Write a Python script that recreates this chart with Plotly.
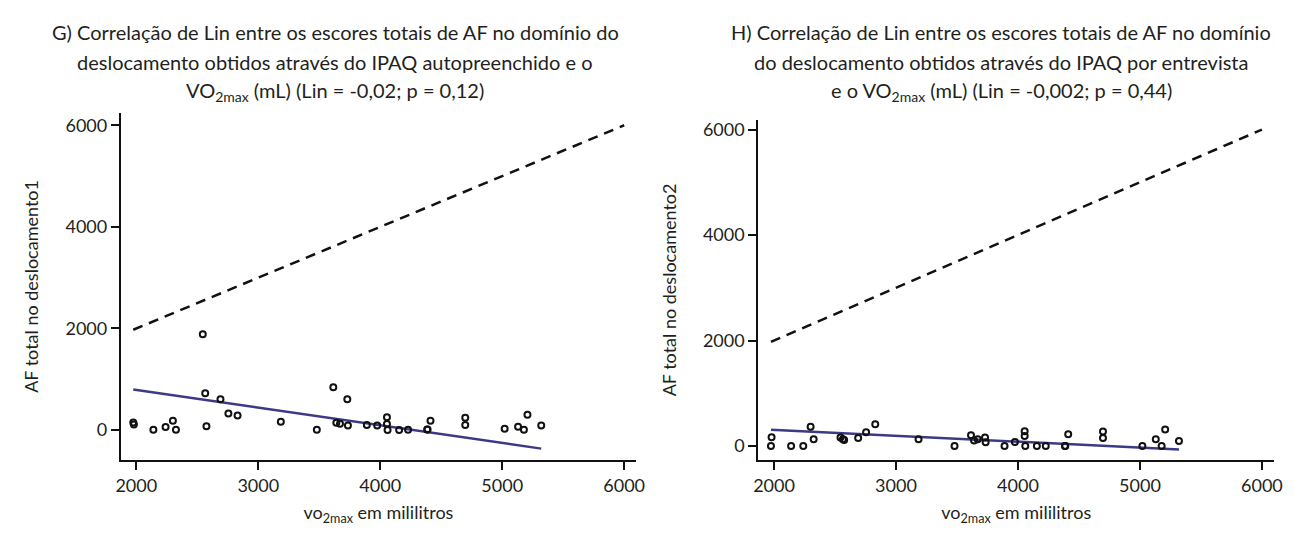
import numpy as np
import plotly.graph_objects as go

# shared x values (VO2max in mL)
vo2max = [1975, 1980, 2140, 2240, 2300, 2325, 2545, 2565, 2575, 2690, 2755, 2830,
          3185, 3480, 3615, 3640, 3670, 3730, 3735, 3890, 3975, 4055, 4055, 4060,
          4155, 4228, 4385, 4388, 4412, 4697, 4697, 5020, 5130, 5178, 5207, 5320]

# G) self-administered IPAQ, commuting domain
af_desloc1 = [150, 110, 6, 59, 182, 6, 1888, 725, 78, 608, 326, 286,
              163, 6, 843, 143, 124, 608, 90, 98, 90, 255, 118, 0,
              0, 6, 12, 12, 182, 241, 98, 25, 65, 6, 300, 90]

# H) interview IPAQ, commuting domain
af_desloc2 = [0, 164, 0, 0, 366, 126, 158, 126, 113, 151, 259, 411,
              126, 0, 202, 101, 126, 158, 69, 0, 75, 278, 190, 0,
              0, 0, 0, 0, 221, 272, 151, 0, 126, 0, 310, 95]

x_ticks = [2000, 3000, 4000, 5000, 6000]
y_ticks = [0, 2000, 4000, 6000]
identity_range = [1975, 6000]

title_lines = [
    ["G) Correlação de Lin entre os escores totais de AF no domínio do",
     "deslocamento obtidos através do IPAQ autopreenchido e o",
     "VO<sub>2max</sub> (mL) (Lin = -0,02; p = 0,12)"],
    ["H) Correlação de Lin entre os escores totais de AF no domínio",
     "do deslocamento obtidos através do IPAQ por entrevista",
     "e o VO<sub>2max</sub> (mL) (Lin = -0,002; p = 0,44)"],
]
ylabels = ["AF total no deslocamento1", "AF total no deslocamento2"]
xlabel = "vo<sub>2max</sub> em mililitros"

FONT = "Lato"
TXT = "#231f20"
BLUE = "#3c3a85"
H = 534


def rma_line(x, y):
    x = np.asarray(x, float)
    y = np.asarray(y, float)
    r = np.corrcoef(x, y)[0, 1]
    b = np.sign(r) * y.std(ddof=1) / x.std(ddof=1)
    a = y.mean() - b * x.mean()
    xs = np.array([x.min(), x.max()])
    return xs, a + b * xs


fig = go.Figure()

panels = [
    dict(y=af_desloc1, xa="x", ya="y"),
    dict(y=af_desloc2, xa="x2", ya="y2"),
]

for p in panels:
    fig.add_trace(go.Scatter(
        x=identity_range, y=identity_range, mode="lines",
        line=dict(color="#111111", width=2.5, dash="10px,7px"),
        xaxis=p["xa"], yaxis=p["ya"], showlegend=False, hoverinfo="skip"))
    lx, ly = rma_line(vo2max, p["y"])
    fig.add_trace(go.Scatter(
        x=lx, y=ly, mode="lines", line=dict(color=BLUE, width=2.5),
        xaxis=p["xa"], yaxis=p["ya"], showlegend=False, hoverinfo="skip"))
    fig.add_trace(go.Scatter(
        x=vo2max, y=p["y"], mode="markers",
        marker=dict(symbol="circle-open", size=6, color="#111111",
                    line=dict(width=2, color="#111111")),
        xaxis=p["xa"], yaxis=p["ya"], showlegend=False))

axis_common = dict(
    showgrid=False, zeroline=False, showline=True, linecolor="#111111",
    linewidth=2, ticks="outside", ticklen=8, tickwidth=2, tickcolor="#111111",
    tickfont=dict(family=FONT, size=18, color=TXT),
    title_font=dict(family=FONT, size=18, color=TXT),
)

fig.update_layout(
    width=1293, height=H,
    margin=dict(l=0, r=0, t=0, b=0),
    paper_bgcolor="white", plot_bgcolor="white",
    xaxis=dict(domain=[0.0843, 0.4872], range=[1873, 6098], tickvals=x_ticks,
               anchor="y", title=dict(text=xlabel, standoff=12), **axis_common),
    yaxis=dict(domain=[0.1536, 0.8071], range=[-594, 6249], tickvals=y_ticks,
               anchor="x", title=dict(text=ylabels[0], standoff=22), **axis_common),
    xaxis2=dict(domain=[0.5827, 0.9861], range=[1871, 6101], tickvals=x_ticks,
                anchor="y2", title=dict(text=xlabel, standoff=12), **axis_common),
    yaxis2=dict(domain=[0.1536, 0.794], range=[-272, 6190], tickvals=y_ticks,
                anchor="x2", title=dict(text=ylabels[1], standoff=22), **axis_common),
)

line_y = [22, 52, 82]
for xc, lines in zip([326 / 1293, 999 / 1293], title_lines):
    for ly_px, t in zip(line_y, lines):
        fig.add_annotation(
            text=t, x=xc, y=1 - ly_px / H, xref="paper", yref="paper",
            xanchor="center", yanchor="middle", showarrow=False,
            font=dict(family=FONT, size=20, color=TXT))

fig.write_html("out.html")
